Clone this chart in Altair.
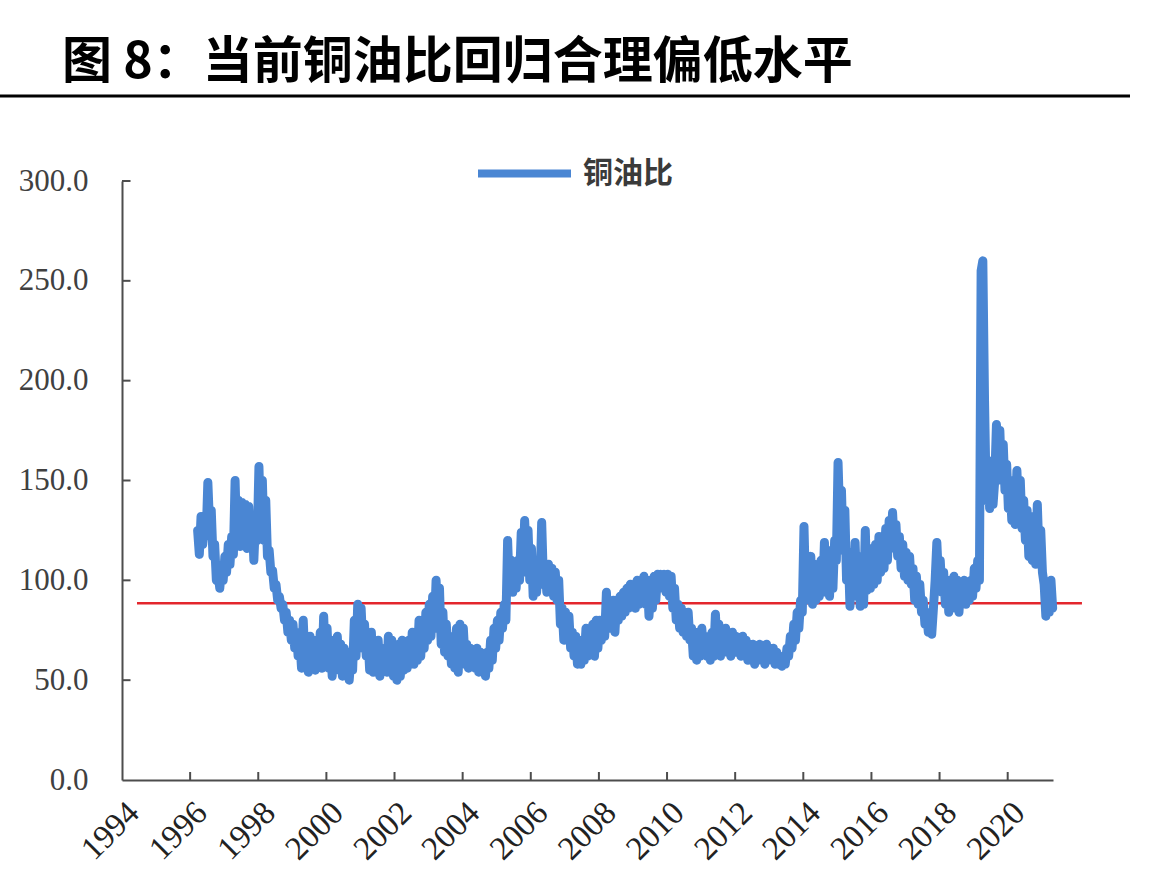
import altair as alt
import pandas as pd

# ---------------- data ----------------
TITLE = "图 8：当前铜油比回归合理偏低水平"
SERIES = "铜油比"
START_YEAR = 1996.22   # first observation
STEP = 0.05            # spacing of the sampled observations (years)

ratio = [
    125,113,132,118,128,122,149,128,135,112,
    118,100,104,96,106,100,112,104,118,108,
    122,113,150,118,140,117,139,120,138,116,
    137,118,132,110,130,120,157,125,150,120,
    140,112,115,104,105,96,98,90,92,86,
    88,80,84,74,80,70,78,66,74,62,
    70,56,80,60,70,54,72,58,70,55,
    68,58,74,56,82,60,76,56,70,52,
    66,56,72,55,68,52,66,56,64,50,
    62,55,80,62,88,68,86,66,78,62,
    72,55,74,54,68,56,70,52,64,56,
    66,54,72,56,70,52,66,50,68,52,
    70,55,66,56,70,58,74,58,72,60,
    80,62,78,66,84,70,88,72,92,76,
    100,82,96,68,84,64,78,62,72,58,
    70,56,76,54,78,58,76,60,68,56,
    66,58,64,56,66,54,64,56,62,52,
    64,56,70,60,76,66,80,70,84,76,
    88,80,120,95,110,94,104,96,110,100,
    124,104,130,112,125,100,116,92,110,94,
    106,98,129,100,108,94,108,96,106,92,
    104,90,100,78,86,70,84,70,82,66,
    74,62,72,58,70,58,66,60,76,62,
    74,64,78,62,80,66,80,70,78,72,
    94,76,86,76,90,74,90,80,92,82,
    94,84,96,86,98,88,96,86,100,88,
    98,90,102,88,100,82,96,86,102,90,
    103,96,103,96,103,94,103,92,102,86,
    96,80,88,76,86,74,84,72,84,70,
    76,62,74,60,70,62,76,64,72,62,
    70,60,74,62,83,66,78,62,74,64,
    76,64,72,62,74,64,72,64,70,62,
    72,64,70,60,68,62,68,58,66,60,
    68,60,66,58,68,60,66,60,66,58,
    64,58,62,57,62,58,66,62,72,66,
    78,70,84,76,90,84,127,92,110,90,
    112,88,108,90,104,92,110,94,119,98,
    114,92,115,96,120,110,159,130,145,115,
    135,100,114,87,108,92,119,94,112,87,
    104,88,125,95,110,96,116,98,118,100,
    122,104,120,106,126,110,130,116,134,118,
    128,112,122,106,118,102,114,100,112,98,
    106,90,102,88,98,84,90,78,84,74,
    80,73,86,100,119,100,110,94,104,88,
    100,84,98,90,102,86,100,84,98,90,
    100,88,98,90,100,92,106,96,110,100,
    255,260,190,140,160,136,155,138,150,178,
    160,175,150,168,145,158,136,150,130,146,
    128,155,135,150,126,140,120,135,112,132,
    110,125,108,138,112,125,104,98,82,94,
    84,100,86,
]

x_ticks = list(range(1994, 2021, 2))
y_ticks = [0, 50, 100, 150, 200, 250, 300]

ref_level = 88.5          # red reference line
ref_start, ref_end = 1994.44, 2022.18

# ---------------- frames ----------------
years = [round(START_YEAR + STEP * i, 2) for i in range(len(ratio))]
df = pd.DataFrame({"year": years, "ratio": ratio, "series": SERIES})

BLUE = "#4a86d3"
RED = "#e3262d"
AXIS = "#4d4d4d"

W, H = 931, 599
PAD = {"left": 122, "top": 181, "right": 107, "bottom": 110}

xscale = alt.Scale(domain=[1994, 2021.33], nice=False, zero=False)
yscale = alt.Scale(domain=[0, 300], nice=False)

line = alt.Chart(df).mark_line(
    strokeWidth=9, strokeCap="round", strokeJoin="round"
).encode(
    x=alt.X("year:Q", scale=xscale, title=None,
            axis=alt.Axis(values=x_ticks, format="d", labelAngle=-45,
                          labelAlign="right", labelBaseline="top",
                          labelFont="Liberation Serif", labelFontSize=33,
                          labelColor="#222222", labelPadding=16,
                          ticks=False, grid=False, domainColor=AXIS,
                          domainWidth=2, labelOverlap=False)),
    y=alt.Y("ratio:Q", scale=yscale, title=None,
            axis=alt.Axis(values=y_ticks, format=".1f",
                          labelFont="Liberation Serif", labelFontSize=31,
                          labelColor="#404040", labelPadding=34,
                          ticks=False, grid=False, domainColor=AXIS,
                          domainWidth=2)),
    color=alt.Color("series:N", scale=alt.Scale(range=[BLUE]),
                    legend=alt.Legend(orient="none", legendX=352, legendY=-58,
                                      title=None, symbolType="stroke",
                                      symbolSize=8649, symbolStrokeWidth=8,
                                      labelFont="Noto Sans CJK SC",
                                      labelFontSize=30, labelFontWeight="bold",
                                      labelColor="#3a3a3a", labelOffset=8)),
)

ref = alt.Chart(pd.DataFrame({"x": [ref_start], "x2": [ref_end], "y": [ref_level]})).mark_rule(
    color=RED, strokeWidth=2.5
).encode(x=alt.X("x:Q", scale=xscale), x2="x2:Q", y=alt.Y("y:Q", scale=yscale))

xt = alt.Chart(pd.DataFrame({"x": x_ticks[1:], "y0": 0, "y1": 4})).mark_rule(
    color=AXIS, strokeWidth=2
).encode(x=alt.X("x:Q", scale=xscale), y=alt.Y("y0:Q", scale=yscale), y2="y1:Q")

yt = alt.Chart(pd.DataFrame({"y": y_ticks[1:], "x0": 1994, "x1": 1994.25})).mark_rule(
    color=AXIS, strokeWidth=2
).encode(y=alt.Y("y:Q", scale=yscale), x=alt.X("x0:Q", scale=xscale), x2="x1:Q")

title = alt.Chart(pd.DataFrame({"t": [TITLE]})).mark_text(
    align="left", baseline="middle", font="Noto Sans CJK SC",
    fontSize=50, fontWeight="bold", color="#000000"
).encode(text="t:N", x=alt.value(-60), y=alt.value(-118))

underline = alt.Chart(pd.DataFrame({"k": [0]})).mark_rule(
    color="#000000", strokeWidth=3
).encode(x=alt.value(-122), x2=alt.value(1008), y=alt.value(-85))

chart = alt.layer(ref, line, xt, yt, title, underline).properties(
    width=W, height=H,
    autosize=alt.AutoSizeParams(type="none"),
    padding=PAD,
    background="white",
).configure_view(stroke=None)

chart.save("out.html", embed_options={"renderer": "svg", "actions": False})
